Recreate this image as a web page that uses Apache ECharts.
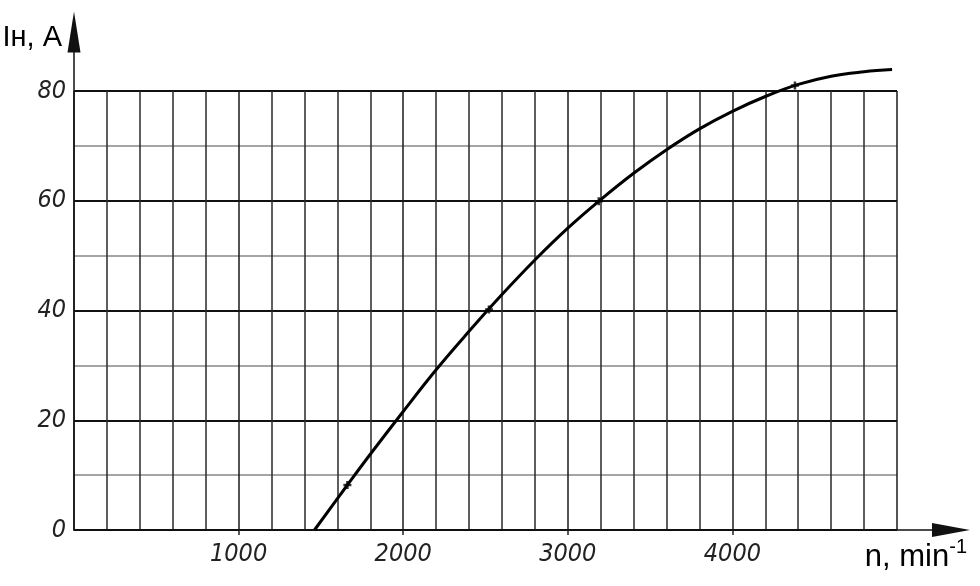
<!DOCTYPE html>
<html>
<head>
<meta charset="utf-8">
<script src="https://cdn.jsdelivr.net/npm/echarts@6/dist/echarts.min.js"></script>
<style>html,body{margin:0;padding:0;background:#fff}#c{width:980px;height:586px}</style>
</head>
<body>
<div id="c"></div>
<script>
// Data
const xTickLabels = [1000, 2000, 3000, 4000];
const yTickLabels = [0, 20, 40, 60, 80];
const curveN = [1461, 1661, 1800, 2000, 2200, 2400, 2600, 2800, 3000, 3200, 3400, 3600, 3800, 4000, 4200, 4400, 4600, 4800, 4970];
const curveI = [0, 8.2, 13.8, 21.6, 29.2, 36.2, 42.9, 49.2, 55.0, 60.2, 65.0, 69.3, 73.1, 76.3, 79.0, 81.2, 82.7, 83.5, 83.9];
const markN = [1661, 2521, 3188, 4380];
const markI = [8.2, 40.2, 59.9, 81.0];
const xName = 'n, min';
const xNameSup = '-1';
const yName = 'Iн, A';

const numFont = '"Liberation Sans Narrow","Arial Narrow","DejaVu Sans Condensed",sans-serif';
const nameFont = '"Liberation Sans",Arial,sans-serif';

const chart = echarts.init(document.getElementById('c'), null, {renderer: 'canvas'});
chart.setOption({
  animation: false,
  backgroundColor: '#fff',
  grid: [
    {left: 74, right: 83, top: 91, bottom: 56, containLabel: false, outerBoundsMode: 'none'},
    {left: 74, right: 29, top: 32, bottom: 56, containLabel: false, outerBoundsMode: 'none'}
  ],
  xAxis: [
    {
      // grid lines every 200 (major every 1000)
      gridIndex: 0, position: 'bottom', type: 'value', min: 0, max: 5000, interval: 1000,
      axisLine: {show: false}, axisTick: {show: false}, axisLabel: {show: false},
      minorTick: {show: false, splitNumber: 5},
      splitLine: {show: true, lineStyle: {color: '#1a1a1a', width: 1.5}},
      minorSplitLine: {show: true, lineStyle: {color: '#2a2a2a', width: 1.5}}
    },
    {
      // axis line with arrow and name
      gridIndex: 1, position: 'bottom', type: 'value', min: 0, max: 1,
      axisLine: {show: true, symbol: ['none', 'triangle'], symbolSize: [14, 38], lineStyle: {color: '#111', width: 1.5}},
      axisTick: {show: false}, axisLabel: {show: false}, splitLine: {show: false},
      name: '{a|' + xName + '}{s|' + xNameSup + '}',
      nameLocation: 'end', nameGap: 16,
      nameTextStyle: {
        align: 'right', verticalAlign: 'top', padding: [7, 0, 0, 0],
        rich: {
          a: {fontFamily: nameFont, fontSize: 31, color: '#000', lineHeight: 36, padding: [6, 0, 0, 0], verticalAlign: 'bottom'},
          s: {fontFamily: nameFont, fontSize: 20, color: '#000', lineHeight: 20, verticalAlign: 'top'}
        }
      }
    },
    {
      // ticks and labels at 1000..4000
      gridIndex: 0, position: 'bottom', offset: 0, type: 'value', min: 0, max: 5000, interval: 1000,
      axisLine: {show: false}, splitLine: {show: false},
      axisTick: {show: true, length: 5, customValues: xTickLabels, lineStyle: {color: '#222', width: 1.5}},
      axisLabel: {
        show: true, margin: 12, color: '#222', fontFamily: numFont, fontStyle: 'italic',
        fontSize: 25, customValues: xTickLabels, formatter: v => String(v)
      }
    }
  ],
  yAxis: [
    {
      gridIndex: 0, type: 'value', min: 0, max: 80, interval: 20,
      axisLine: {show: false}, axisTick: {show: false},
      minorTick: {show: false, splitNumber: 2},
      axisLabel: {
        show: true, margin: 8, color: '#222', fontFamily: numFont, fontStyle: 'italic', fontSize: 25,
        customValues: yTickLabels, formatter: v => String(v)
      },
      splitLine: {show: true, lineStyle: {color: '#111', width: 2}},
      minorSplitLine: {show: true, lineStyle: {color: '#888', width: 1.5}}
    },
    {
      gridIndex: 1, type: 'value', min: 0, max: 1,
      axisLine: {show: true, symbol: ['none', 'triangle'], symbolSize: [13, 41], lineStyle: {color: '#111', width: 1.5}},
      axisTick: {show: false}, axisLabel: {show: false}, splitLine: {show: false},
      name: yName, nameLocation: 'end', nameGap: -6,
      nameTextStyle: {align: 'right', verticalAlign: 'middle', padding: [0, 12, 0, 0], fontFamily: nameFont, fontSize: 29, color: '#000'}
    }
  ],
  series: [
    {
      type: 'line', xAxisIndex: 0, yAxisIndex: 0, clip: false,
      data: curveN.map((n, i) => [n, curveI[i]]),
      smooth: 0.4, showSymbol: false, symbol: 'none',
      lineStyle: {color: '#000', width: 3}, z: 5
    },
    {
      type: 'scatter', xAxisIndex: 0, yAxisIndex: 0, clip: false,
      data: markN.map((n, i) => [n, markI[i]]),
      symbol: 'path://M0,4L8,4M4,1L4,7', symbolSize: 8,
      itemStyle: {color: 'none', borderColor: '#000', borderWidth: 2.5}, z: 6
    }
  ]
});
</script>
</body>
</html>
